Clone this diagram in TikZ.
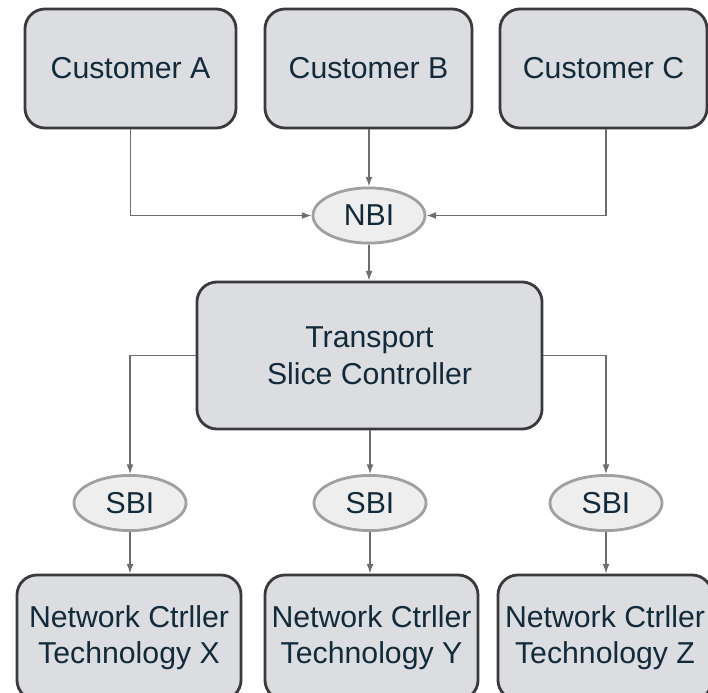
\documentclass[tikz,border=0pt]{standalone}
\usepackage{fontspec}
\setmainfont{Liberation Sans}
\usepackage{xcolor}
\usetikzlibrary{shapes.geometric,arrows.meta}

\definecolor{boxfill}{RGB}{220,221,225}
\definecolor{boxline}{RGB}{58,58,60}
\definecolor{portfill}{RGB}{238,238,238}
\definecolor{portline}{RGB}{160,160,160}
\definecolor{wire}{RGB}{110,110,110}
\definecolor{label}{RGB}{18,42,58}

\begin{document}
\begin{tikzpicture}[x=0.025cm,y=-0.025cm]
    \tikzstyle{box}=[rectangle,rounded corners=0.5cm,draw=boxline,line width=2pt,fill=boxfill,
        text=label,align=center,inner sep=0pt,font=\fontsize{21.5}{26}\selectfont]
    \tikzstyle{port}=[ellipse,draw=portline,line width=2pt,fill=portfill,inner sep=0pt,
        text=label,minimum width=2.8cm,minimum height=1.38cm,font=\fontsize{21.5}{26}\selectfont]
    \tikzstyle{wire}=[draw=wire,line width=0.9pt,-{Latex[length=2.4mm,width=1.7mm]}]

    \useasboundingbox (0,0) rectangle (708,692);

    % Customers
    \node [box,minimum width=5.275cm,minimum height=2.975cm] (custA) at (130.5, 68.5) {Customer A};
    \node [box,minimum width=5.175cm,minimum height=2.975cm] (custB) at (368.5, 68.5) {Customer B};
    \node [box,minimum width=5.175cm,minimum height=2.975cm] (custC) at (603.5, 68.5) {Customer C};

    % Northbound interface and controller
    \node [port] (nbi) at (369, 215.5) {NBI};
    \node [box,minimum width=8.625cm,minimum height=3.675cm] (tsc) at (369.5, 355.5)
        {Transport\\Slice Controller};

    % Southbound interfaces
    \node [port] (sbiX) at (130, 503) {SBI};
    \node [port] (sbiY) at (370, 503) {SBI};
    \node [port] (sbiZ) at (606, 503) {SBI};

    % Network controllers (cut by the lower edge)
    \node [box,minimum width=5.6cm,minimum height=3.125cm] (ctrlX) at (129, 637.5)
        {Network Ctrller\\Technology X};
    \node [box,minimum width=5.325cm,minimum height=3.125cm] (ctrlY) at (371.5, 637.5)
        {Network Ctrller\\Technology Y};
    \node [box,minimum width=5.35cm,minimum height=3.125cm] (ctrlZ) at (605, 637.5)
        {Network Ctrller\\Technology Z};

    % Connectors
    \draw [wire] (custA.south) |- (nbi.west);
    \draw [wire] (custB.south -| nbi.north) -- (nbi.north);
    \draw [wire] ([xshift=0.06cm]custC.south) |- (nbi.east);
    \draw [wire] (nbi.south) -- (tsc.north -| nbi.south);

    \draw [wire] (tsc.west) -| (sbiX.north);
    \draw [wire] (tsc.south -| sbiY.north) -- (sbiY.north);
    \draw [wire] (tsc.east) -| (sbiZ.north);

    \draw [wire] (sbiX.south) -- (sbiX.south |- ctrlX.north);
    \draw [wire] (sbiY.south) -- (sbiY.south |- ctrlY.north);
    \draw [wire] (sbiZ.south) -- (sbiZ.south |- ctrlZ.north);
\end{tikzpicture}
\end{document}
